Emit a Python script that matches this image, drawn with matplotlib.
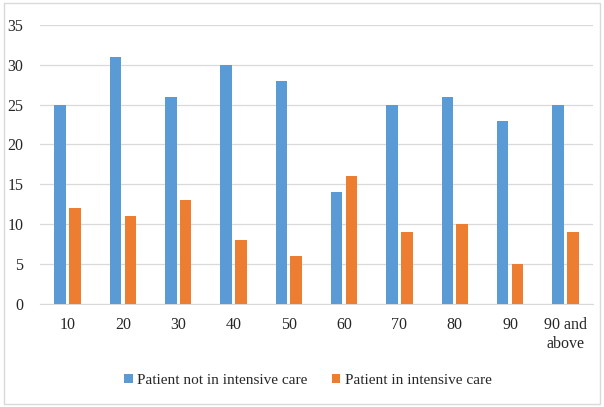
import numpy as np
import matplotlib.pyplot as plt
from matplotlib.patches import Rectangle

categories = ['10', '20', '30', '40', '50', '60', '70', '80', '90', '90 and\nabove']
not_icu = [25, 31, 26, 30, 28, 14, 25, 26, 23, 25]
icu = [12, 11, 13, 8, 6, 16, 9, 10, 5, 9]

plt.rcParams['font.family'] = ['Liberation Serif', 'DejaVu Serif']

fig = plt.figure(figsize=(6.04, 4.07), dpi=100)
ax = fig.add_axes([0.066, 0.253, 0.916, 0.686])

x = np.arange(len(categories))
w = 0.21
ax.bar(x - 0.135, not_icu, w, color='#5B9BD5', label='Patient not in intensive care', zorder=3)
ax.bar(x + 0.135, icu, w, color='#ED7D31', label='Patient in intensive care', zorder=3)

ax.set_xlim(-0.5, len(categories) - 0.5)
ax.set_ylim(0, 35)
ax.set_yticks(range(0, 36, 5))
ax.set_xticks(x)
ax.set_xticklabels(categories, fontsize=11.5, color='#262626', linespacing=1.3)
ax.tick_params(axis='y', labelsize=11.5, colors='#262626', length=0, pad=12)
ax.tick_params(axis='x', length=0, pad=9)
ax.grid(axis='y', color='#D9D9D9', linewidth=0.9, zorder=0)
for s in ['top', 'right', 'left']:
    ax.spines[s].set_visible(False)
ax.spines['bottom'].set_color('#D9D9D9')

leg = ax.legend(loc='center', bbox_to_anchor=(0.51, 0.066), bbox_transform=fig.transFigure,
                ncol=2, frameon=False, prop={'family': 'Liberation Serif', 'size': 11},
                handlelength=0.55, handleheight=0.55, handletextpad=0.3, columnspacing=1.6)
for t in leg.get_texts():
    t.set_color('#262626')

fig.patches.append(Rectangle((0.006, 0.008), 0.988, 0.984, transform=fig.transFigure,
                             fill=False, edgecolor='#D9D9D9', linewidth=1.0))

fig.savefig('out.png', dpi=100)
